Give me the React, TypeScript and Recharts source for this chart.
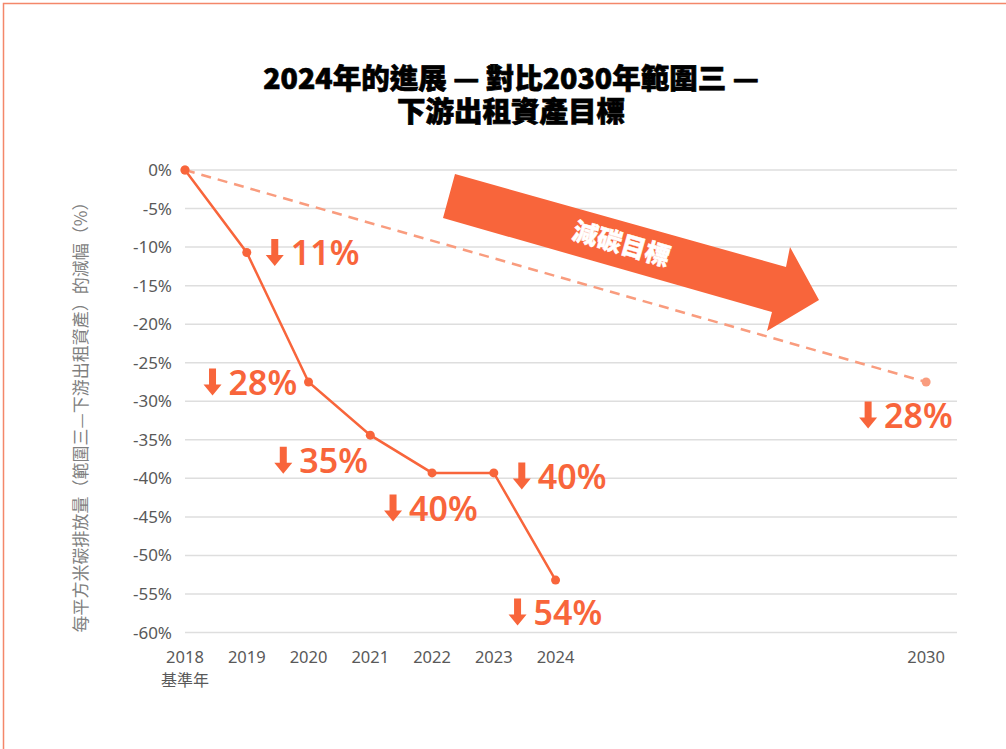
import { CartesianGrid, LabelList, Line, LineChart, XAxis, YAxis } from "recharts";

const years = [2018, 2019, 2020, 2021, 2022, 2023, 2024];
const reduction = [0, -10.7, -27.5, -34.4, -39.3, -39.3, -53.2];
const reductionLabels = ["", "11%", "28%", "35%", "40%", "40%", "54%"];

const targetYears = [2018, 2030];
const targetReduction = [0, -27.5];
const targetLabels = ["", "28%"];

const xTicks = [2018, 2019, 2020, 2021, 2022, 2023, 2024, 2030];
const yTicks = [0, -5, -10, -15, -20, -25, -30, -35, -40, -45, -50, -55, -60];

const ORANGE = "#f8653b";
const SALMON = "#f99c7e";
const GRID = "#dedede";
const TICK = "#595959";
const FONT = "'Noto Sans', 'Noto Sans CJK TC', sans-serif";
const CJK = "'Noto Sans CJK TC', sans-serif";

// where each drop label sits relative to its point: [dx to arrow's left edge, dy to text middle]
const labelPos: Record<number, [number, number]> = {
  2019: [19, 0],
  2020: [-105, 0],
  2021: [-96, 25],
  2022: [-48, 35],
  2023: [19, 3],
  2024: [-47, 32],
  2030: [-67, 33],
};

type Row = {
  year: number;
  actual: number | null;
  target: number | null;
  actualLabel: string;
  targetLabel: string;
};

const allYears = Array.from(new Set([...years, ...targetYears])).sort((a, b) => a - b);
const rows: Row[] = allYears.map((year) => {
  const i = years.indexOf(year);
  const j = targetYears.indexOf(year);
  return {
    year,
    actual: i >= 0 ? reduction[i] : null,
    target: j >= 0 ? targetReduction[j] : null,
    actualLabel: i >= 0 ? reductionLabels[i] : "",
    targetLabel: j >= 0 ? targetLabels[j] : "",
  };
});

function DropLabel(props: any) {
  const { value, index, viewBox } = props;
  const x = props.x ?? viewBox?.x;
  const y = props.y ?? viewBox?.y;
  if (!value || x == null || y == null) return null;
  const [dx, dy] = labelPos[rows[index].year] ?? [0, 0];
  const ax = x + dx;
  const cy = y + dy;
  const top = cy - 13.5;
  const bottom = cy + 13.5;
  const arrow = `M${ax + 5.5},${top} h7 v16 h5.5 L${ax + 9},${bottom} L${ax},${top + 16} h5.5 Z`;
  return (
    <g>
      <path d={arrow} fill={ORANGE} />
      <text
        x={ax + 25}
        y={cy}
        dominantBaseline="central"
        fill={ORANGE}
        fontSize={34}
        fontWeight={600}
        fontFamily={FONT}
      >
        {value}
      </text>
    </g>
  );
}

function YearTick({ x, y, payload }: any) {
  return (
    <g>
      <text x={x} y={y + 30} textAnchor="middle" fill={TICK} fontSize={16.5} fontFamily={FONT}>
        {payload.value}
      </text>
      {payload.value === 2018 && (
        <text x={x} y={y + 53} textAnchor="middle" fill={TICK} fontSize={16} fontFamily={FONT}>
          基準年
        </text>
      )}
    </g>
  );
}

export default function App() {
  return (
    <div style={{ position: "absolute", left: 0, top: 0, width: 1006, height: 749, background: "#fff", fontFamily: FONT }}>
      <LineChart width={1006} height={749} data={rows} margin={{ top: 170, right: 49, bottom: 66.5, left: 100 }}>
        <CartesianGrid vertical={false} stroke={GRID} strokeWidth={1.5} />
        <XAxis
          dataKey="year"
          type="number"
          domain={[2018, 2030.5]}
          ticks={xTicks}
          axisLine={false}
          tickLine={false}
          tickSize={0}
          tickMargin={0}
          height={50}
          interval={0}
          tick={<YearTick />}
        />
        <YAxis
          type="number"
          domain={[-60, 0]}
          ticks={yTicks}
          width={85}
          axisLine={false}
          tickLine={false}
          tickSize={0}
          tickMargin={13}
          interval={0}
          tickFormatter={(v) => `${v}%`}
          tick={{ fill: TICK, fontSize: 17, fontFamily: FONT }}
        />
        <Line
          dataKey="target"
          stroke={SALMON}
          strokeWidth={2.5}
          strokeDasharray="10 7"
          connectNulls
          dot={{ r: 4.5, fill: SALMON, stroke: SALMON, strokeWidth: 0 }}
          isAnimationActive={false}
        >
          <LabelList dataKey="targetLabel" content={<DropLabel />} />
        </Line>
        <Line
          dataKey="actual"
          stroke={ORANGE}
          strokeWidth={2.5}
          dot={{ r: 4.5, fill: ORANGE, stroke: ORANGE, strokeWidth: 0 }}
          isAnimationActive={false}
        >
          <LabelList dataKey="actualLabel" content={<DropLabel />} />
        </Line>
      </LineChart>

      <svg width={1006} height={749} style={{ position: "absolute", left: 0, top: 0, pointerEvents: "none" }}>
        <path d="M3.5,749 V3.5 H1006" fill="none" stroke="#f4876a" strokeWidth={1.5} />
        <g fontSize={28.5} fontWeight={900} fill="#000" stroke="#000" strokeWidth={0.7} fontFamily={CJK} textAnchor="middle">
          <text x={511} y={76} dominantBaseline="central">
            2024年的進展 — 對比2030年範圍三 —
          </text>
          <text x={511} y={109} dominantBaseline="central">
            下游出租資產目標
          </text>
        </g>
        <text
          transform="translate(79,413) rotate(-90)"
          textAnchor="middle"
          dominantBaseline="central"
          fontSize={17}
          fill="#7f7f7f"
          fontFamily={CJK}
        >
          每平方米碳排放量（範圍三—下游出租資產）的減幅（%）
        </text>
        <polygon points="455,174 786,267 790,247 819,300 767,331 772,312 443,218" fill={ORANGE} />
        <text
          transform="translate(622,242) rotate(16)"
          textAnchor="middle"
          dominantBaseline="central"
          fontSize={25}
          fontWeight={900}
          fill="#fff"
          stroke="#fff"
          strokeWidth={0.5}
          fontFamily={CJK}
        >
          減碳目標
        </text>
      </svg>
    </div>
  );
}
